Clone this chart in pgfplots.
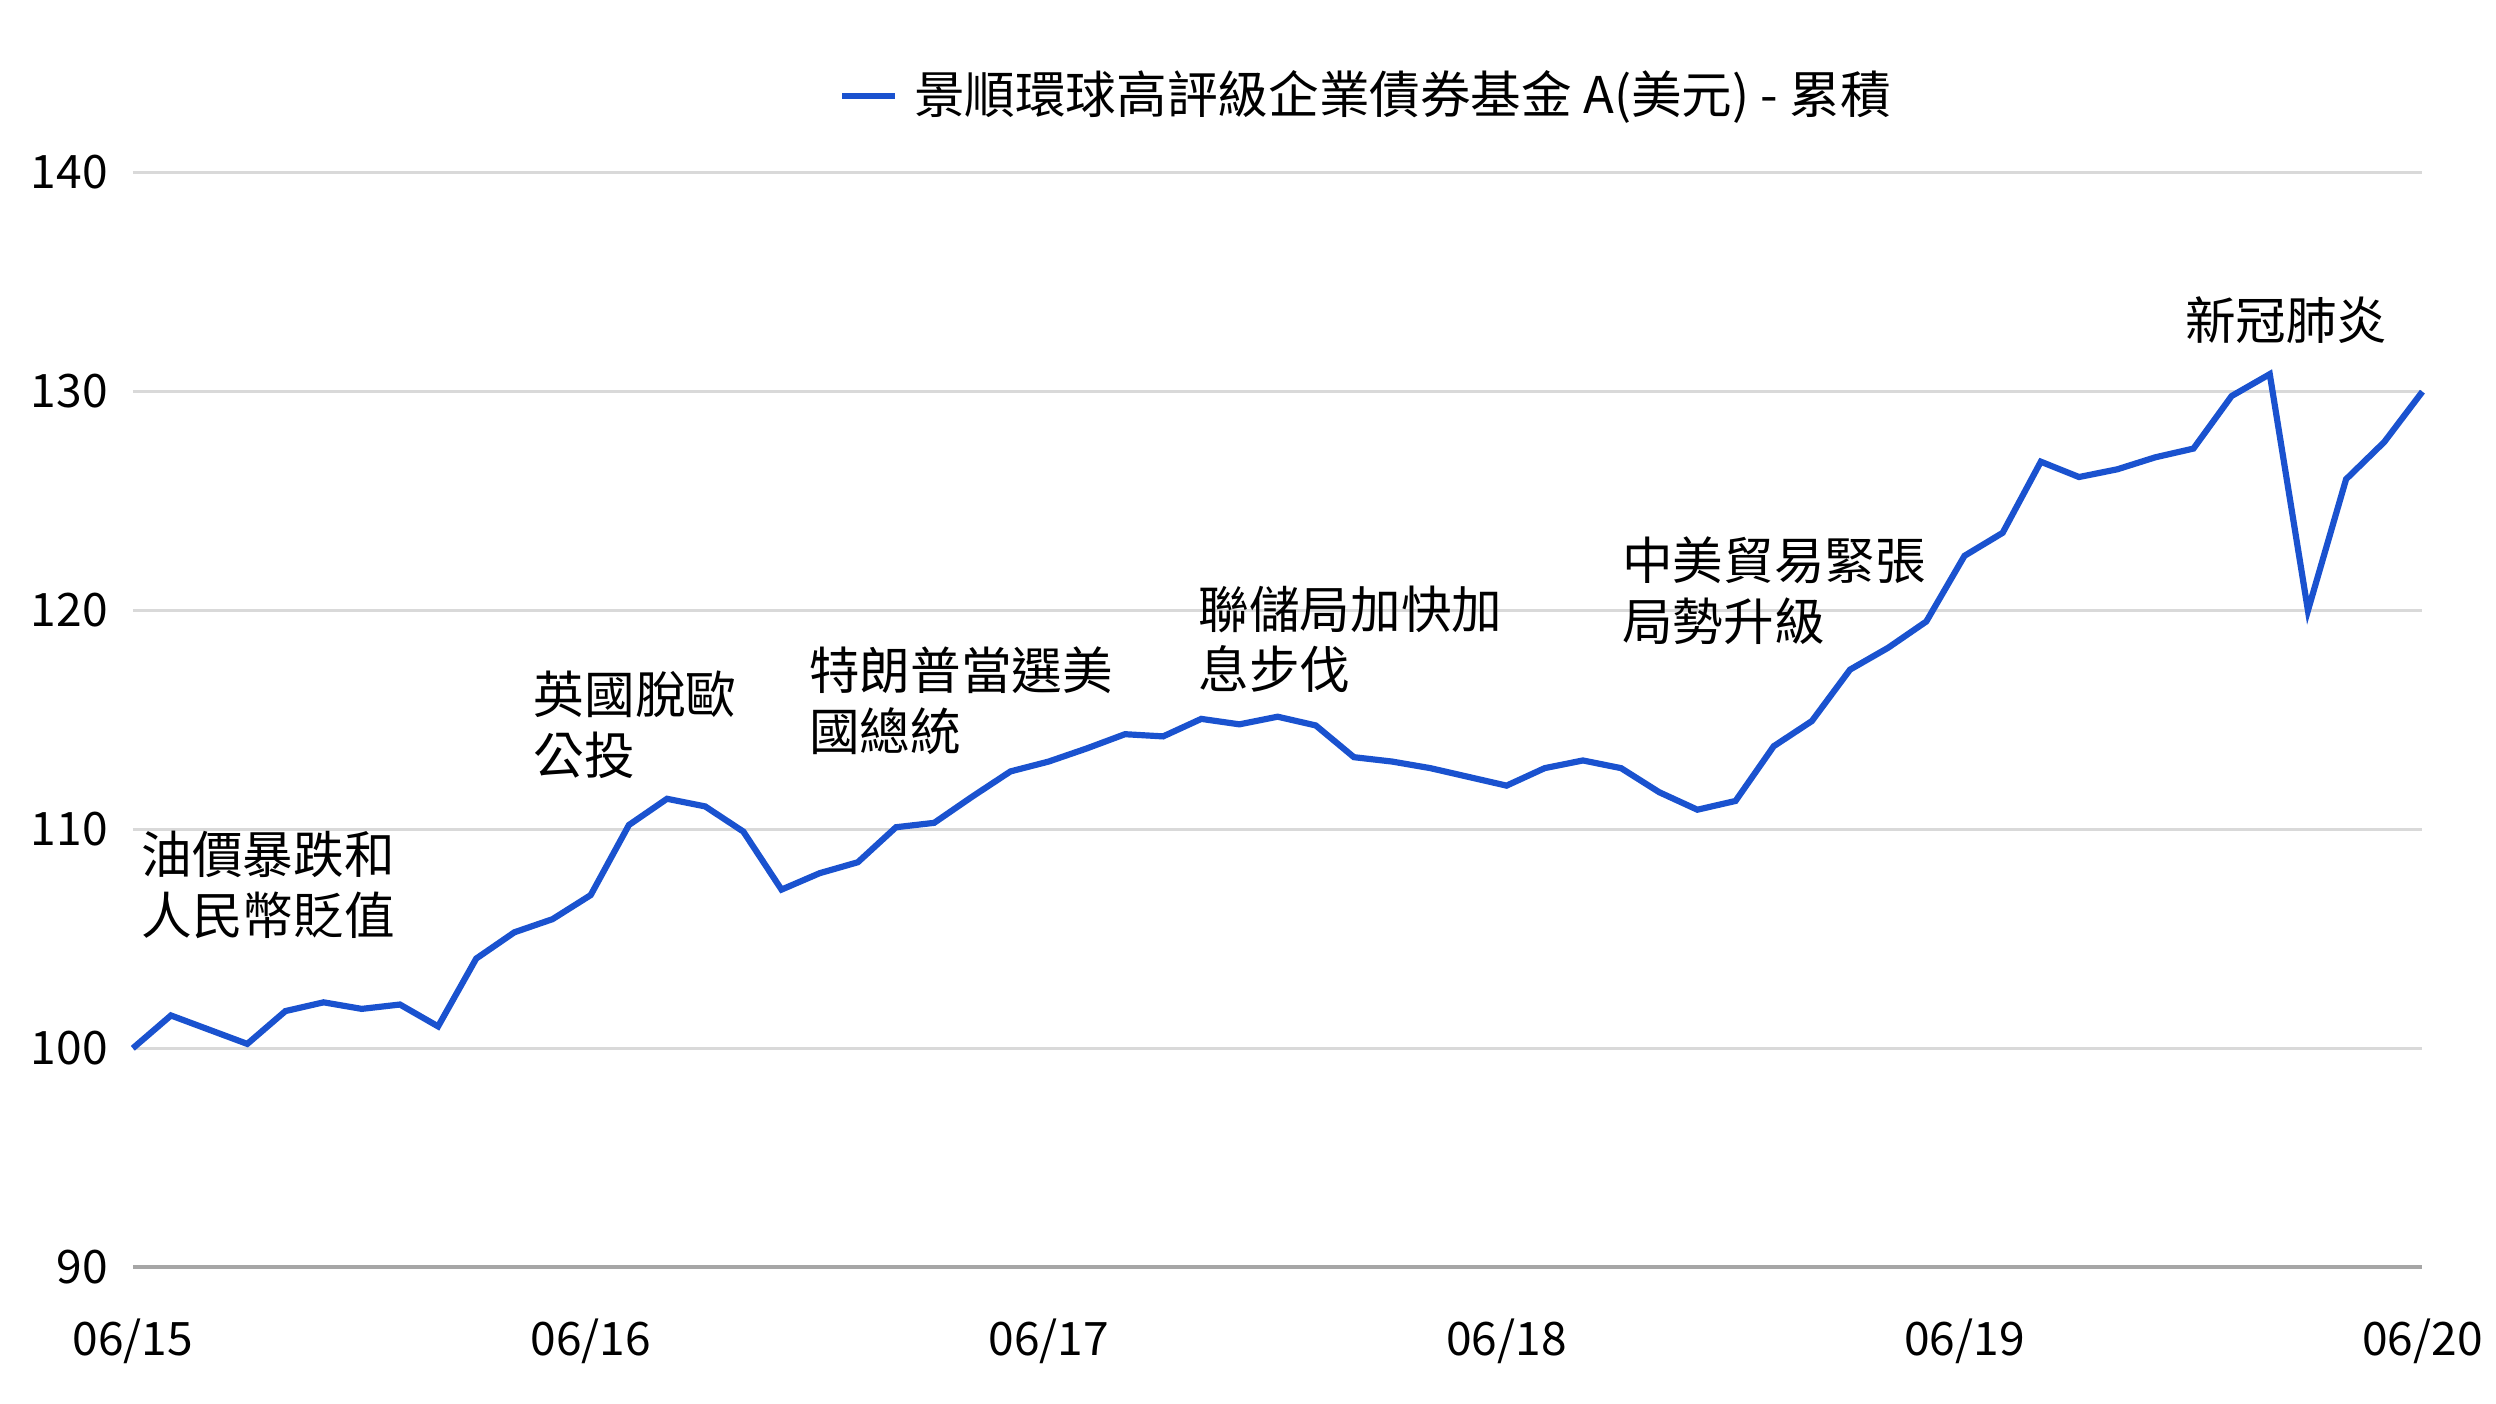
\documentclass[border=0pt]{standalone}
\usepackage{pgfplots}
\pgfplotsset{compat=1.18}
\usepackage{pgfplotstable}
\usepackage{fontspec}
\setmainfont{Noto Sans CJK TC}
\definecolor{fundblue}{HTML}{1A52CF}
\definecolor{gridgray}{HTML}{D9D9D9}
\definecolor{basegray}{HTML}{A6A6A6}

% month index (0 = 06/15) and cumulative value
\pgfplotstableread{
m v
0 100.0
1 101.5
2 100.85
3 100.2
4 101.7
5 102.1
6 101.8
7 102.0
8 101.0
9 104.1
10 105.3
11 105.9
12 107.0
13 110.2
14 111.4
15 111.05
16 109.9
17 107.25
18 108.0
19 108.5
20 110.1
21 110.3
22 111.5
23 112.65
24 113.1
25 113.7
26 114.35
27 114.25
28 115.05
29 114.8
30 115.15
31 114.75
32 113.3
33 113.1
34 112.8
35 112.4
36 112.0
37 112.8
38 113.15
39 112.8
40 111.7
41 110.9
42 111.3
43 113.8
44 114.95
45 117.3
46 118.3
47 119.5
48 122.5
49 123.55
50 126.8
51 126.1
52 126.45
53 127.0
54 127.4
55 129.8
56 130.8
57 120.0
58 126.0
59 127.7
60 130.0
}\fund

\begin{document}
\begin{tikzpicture}[font=\fontsize{9}{11}\selectfont]
  \begin{axis}[
      scale only axis,
      width=143.1mm,
      height=68.4mm,
      xmin=0, xmax=60,
      ymin=90, ymax=140,
      xtick={0,12,24,36,48,60},
      xticklabels={06/15,06/16,06/17,06/18,06/19,06/20},
      ytick={90,100,...,140},
      major tick length=0pt,
      axis line style={draw=none},
      ymajorgrids,
      major grid style={gridgray, line width=0.5pt},
      /pgf/number format/assume math mode=true,
      ticklabel style={font=\fontsize{8.2}{10}\selectfont, inner sep=0pt},
      xticklabel style={anchor=base, yshift=-5.5mm},
      yticklabel style={anchor=base east, xshift=-1.5mm, yshift=-1.0mm},
      clip=false,
      legend style={draw=none, fill=none, at={(rel axis cs:0.308,1.07)},
        anchor=west, inner sep=0pt,
        font=\fontsize{9}{11}\selectfont,
        /tikz/every even column/.append style={column sep=0pt}},
      legend image code/.code={\draw[#1] (0,0) -- (3.3mm,0);},
      legend cell align=left,
    ]
    \draw[basegray, line width=0.7pt] (rel axis cs:0,0) -- (rel axis cs:1,0);
    \addplot[fundblue, line width=1.1pt] table[x=m, y=v] {\fund};
    \addlegendentry{\hspace{0.3mm}景順環球高評級企業債券基金 A(美元) - 累積}

    \node[anchor=base west, inner sep=0pt] at (axis cs:0.2,108.0) {油價暴跌和};
    \node[anchor=base west, inner sep=0pt] at (axis cs:0.2,105.22) {人民幣貶值};
    \node[anchor=base west, inner sep=0pt] at (axis cs:10.48,115.3) {英國脫歐};
    \node[anchor=base west, inner sep=0pt] at (axis cs:10.48,112.52) {公投};
    \node[anchor=base west, inner sep=0pt] at (axis cs:17.7,116.4) {特朗普當選美};
    \node[anchor=base west, inner sep=0pt] at (axis cs:17.7,113.62) {國總統};
    \node[anchor=base west, inner sep=0pt] at (axis cs:27.9,119.2) {聯儲局加快加};
    \node[anchor=base west, inner sep=0pt] at (axis cs:27.9,116.42) {息步伐};
    \node[anchor=base west, inner sep=0pt] at (axis cs:39.0,121.4) {中美貿易緊張};
    \node[anchor=base west, inner sep=0pt] at (axis cs:39.0,118.62) {局勢升級};
    \node[anchor=base west, inner sep=0pt] at (axis cs:53.75,132.4) {新冠肺炎};

    \coordinate (bl) at (rel axis cs:0,0);
    \coordinate (tr) at (rel axis cs:1,1);
  \end{axis}
  \path ([xshift=-8.3mm, yshift=-8.5mm]bl) rectangle ([xshift=4.6mm, yshift=10.8mm]tr);
\end{tikzpicture}
\end{document}
